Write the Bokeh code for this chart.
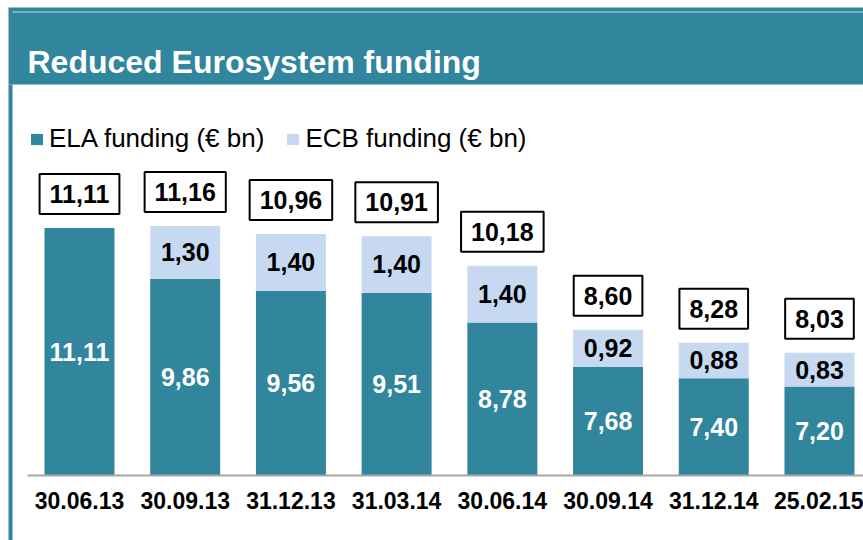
from bokeh.plotting import figure
from bokeh.models import (ColumnDataSource, Range1d, FixedTicker, BoxAnnotation, Label,
                          Legend, LegendItem)
from bokeh.core.properties import value
from bokeh.embed import file_html
from bokeh.resources import INLINE

# ---- data ----
dates = ["30.06.13", "30.09.13", "31.12.13", "31.03.14",
         "30.06.14", "30.09.14", "31.12.14", "25.02.15"]
ela = [11.11, 9.86, 9.56, 9.51, 8.78, 7.68, 7.40, 7.20]
ecb = [0.00, 1.30, 1.40, 1.40, 1.40, 0.92, 0.88, 0.83]
total = [11.11, 11.16, 10.96, 10.91, 10.18, 8.60, 8.28, 8.03]

TEAL = "#31859C"
LIGHT = "#C6D9F1"
FONT = "Liberation Sans"
Y_BASE = 5.0          # value axis starts at 5 (bars drawn from the axis base)
PX_PER_UNIT = 40.5


def fmt(v):
    return f"{v:.2f}".replace(".", ",")


xs = list(range(len(dates)))
src = ColumnDataSource(dict(
    x=xs, ela=ela, ecb=ecb, total=total,
    base=[Y_BASE] * len(xs),
    ela_mid=[(Y_BASE + a) / 2 for a in ela],
    ela_lbl=[fmt(a) for a in ela],
    tot_lbl=[fmt(t) for t in total],
))
ecb_idx = [i for i, b in enumerate(ecb) if b > 0]
src_ecb = ColumnDataSource(dict(
    x=[xs[i] for i in ecb_idx],
    y=[ela[i] + ecb[i] / 2 for i in ecb_idx],
    lbl=[fmt(ecb[i]) for i in ecb_idx],
))

W, H = 863, 540
BASE_PX = 475  # page y of the value-axis base line


def sy(page_y):
    """screen-unit y (from frame bottom) for a page y."""
    return H - page_y


p = figure(width=W, height=H, output_backend="svg", toolbar_location=None,
           x_range=Range1d(-0.7473, len(dates) - 1 + 0.4165),
           y_range=Range1d(Y_BASE - (H - BASE_PX) / PX_PER_UNIT,
                           Y_BASE + BASE_PX / PX_PER_UNIT),
           y_axis_location=None,
           min_border_left=0, min_border_right=0, min_border_top=0,
           min_border_bottom=0)
p.outline_line_color = None
p.grid.visible = False
p.background_fill_color = "white"
p.border_fill_color = "white"

r_ela = p.vbar(x="x", bottom="base", top="ela", width=0.662, color=TEAL,
               line_color=None, source=src)
r_ecb = p.vbar(x="x", bottom="ela", top="total", width=0.662, color=LIGHT,
               line_color=None, source=src)

# in-bar labels
p.text(x="x", y="ela_mid", text="ela_lbl", source=src, text_align="center",
       text_baseline="middle", text_color="white", text_font=value(FONT),
       text_font_style="bold", text_font_size="25px")
p.text(x="x", y="y", text="lbl", source=src_ecb, text_align="center",
       text_baseline="middle", text_color="black", text_font=value(FONT),
       text_font_style="bold", text_font_size="25px")
# boxed totals
p.text(x="x", y="total", text="tot_lbl", source=src, text_align="center",
       text_baseline="middle", y_offset=-34, text_color="black",
       text_font=value(FONT), text_font_style="bold", text_font_size="25px",
       border_line_color="black", border_line_width=2,
       background_fill_color="white",
       padding=dict(left=10, right=10, top=11, bottom=11))

# x axis, pinned at the value-axis base
ax = p.xaxis[0]
ax.fixed_location = Y_BASE
ax.ticker = FixedTicker(ticks=xs)
ax.major_label_overrides = {i: d for i, d in zip(xs, dates)}
ax.axis_line_color = None
ax.major_tick_line_color = None
ax.minor_tick_line_color = None
ax.major_tick_out = 0
ax.major_label_standoff = 16
ax.major_label_text_font = FONT
ax.major_label_text_font_style = "bold"
ax.major_label_text_font_size = "23px"
ax.major_label_text_color = "black"


# decorations (panel header, left border, baseline)
def sbox(left, right, top, bottom, color):
    return BoxAnnotation(left=left, right=right, top=top, bottom=bottom,
                         left_units="screen", right_units="screen",
                         top_units="screen", bottom_units="screen",
                         fill_color=color, fill_alpha=1, line_color=None)


p.add_layout(sbox(8, W, sy(7), sy(84), TEAL))
p.add_layout(sbox(12, W, sy(11), sy(12), "#BFE0EA"))
p.add_layout(sbox(8, 12, sy(84), sy(H), TEAL))
p.add_layout(sbox(27, W, sy(BASE_PX - 1), sy(BASE_PX + 1), "#A6A6A6"))

p.add_layout(Label(x=27, y=sy(61), x_units="screen", y_units="screen",
                   text="Reduced Eurosystem funding", text_color="white",
                   text_font=FONT, text_font_style="bold", text_font_size="32px",
                   text_baseline="alphabetic"))

legend = Legend(items=[LegendItem(label="ELA funding (€ bn)", renderers=[r_ela]),
                       LegendItem(label="ECB funding (€ bn)", renderers=[r_ecb])],
                orientation="horizontal", location=(29, sy(154)),
                glyph_width=15, glyph_height=14, label_standoff=5, spacing=21,
                label_height=30, padding=0, margin=0,
                label_text_font=FONT, label_text_font_size="26px",
                label_text_color="black", border_line_color=None,
                background_fill_alpha=0)
p.add_layout(legend)

open("out.html", "w").write(file_html(p, INLINE))
